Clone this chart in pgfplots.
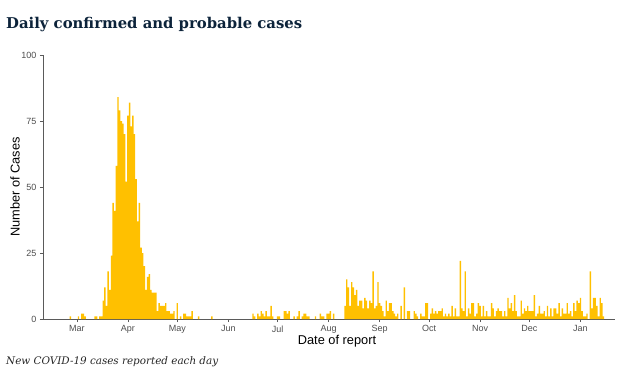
\documentclass[border=0pt]{standalone}
\usepackage{fontspec}
\setmainfont{Liberation Sans}
\newfontfamily\georgia{DejaVu Serif}
\usepackage{graphicx}
\usepackage{pgfplots}
\pgfplotsset{compat=1.18}
\definecolor{barcol}{RGB}{255,192,0}
\definecolor{titlecol}{RGB}{12,35,58}
\definecolor{tickcol}{RGB}{77,77,77}
\definecolor{axcol}{RGB}{90,90,90}
\begin{document}
\begin{tikzpicture}[x=1pt,y=1pt]
\path[use as bounding box] (0,0) rectangle (617,378);
\begin{axis}[
  at={(43pt,59pt)}, anchor=south west,
  scale only axis, width=572pt, height=264pt,
  xmin=-20.6, xmax=327, ymin=0, ymax=100,
  axis lines=left, axis line style={-, axcol, line width=0.7pt},
  ybar, bar width=0.85, bar shift=0pt,
  xtick={0,31,61,92,122,153,184,214,245,275,306},
  xticklabels={Mar,Apr,May,Jun,Jul,Aug,Sep,Oct,Nov,Dec,Jan},
  ytick={0,25,50,75,100},
  tick align=outside, major tick length=3pt,
  tick style={axcol, line width=0.6pt},
  ticklabel style={font=\fontsize{9}{10}\selectfont, text=tickcol},
  /pgf/number format/assume math mode=true,
  xlabel={Date of report}, ylabel={Number of Cases},
  label style={font=\fontsize{12.8}{15}\selectfont, text=black},
  xlabel style={at={(axis description cs:0.514,-0.0833)}, anchor=center},
  ylabel style={at={(axis description cs:-0.049,0.5)}, anchor=center},
]
\addplot[fill=barcol, draw=none] coordinates {
(-4,1)(1,1)(3,2)(4,2)(5,1)(11,1)(12,1)(14,1)(15,1)
(16,7)(17,12)(18,5)(19,18)(20,11)(21,24)(22,44)(23,41)(24,58)(25,84)
(26,79)(27,75)(28,74)(29,70)(30,52)(31,77)(32,82)(33,73)(34,77)(35,70)
(36,53)(37,37)(38,44)(39,27)(40,25)(41,20)(42,11)(43,16)(44,17)(45,11)
(46,10)(47,10)(48,10)(49,3)(50,6)(51,5)(52,5)(53,5)(54,6)(55,3)(56,3)
(57,2)(58,2)(59,3)(61,6)(63,1)(65,2)(66,2)(67,1)(68,1)(69,1)(70,3)(74,1)(82,1)
(107,2)(108,1)(110,2)(111,1)(112,3)(113,2)(114,1)(115,3)(116,1)(117,1)(118,5)(119,1)
(122,1)(123,1)(126,3)(127,3)(128,2)(129,3)(132,1)(134,1)(135,3)(137,1)(138,2)(139,2)
(140,1)(141,1)(145,1)(148,2)(149,1)(150,1)(152,2)(153,2)(154,3)(156,2)
(163,5)(164,15)(165,12)(166,5)(167,14)(168,12)(169,9)(170,11)(171,5)(172,7)(173,7)
(174,4)(175,8)(176,7)(177,4)(178,7)(179,6)(180,18)(181,4)(182,5)(183,14)(184,6)
(185,5)(186,3)(187,1)(188,7)(189,3)(190,6)(191,6)(192,3)(193,2)(194,1)(195,2)(197,5)
(199,12)(201,3)(202,3)(205,3)(206,2)(207,1)(209,2)(210,1)(211,1)(212,6)(213,6)
(215,2)(216,4)(217,2)(218,3)(219,2)(220,3)(221,3)(222,4)(223,1)(224,2)(225,1)(226,2)
(227,1)(228,5)(229,1)(230,4)(231,1)(232,1)(233,22)(234,4)(235,3)(236,18)(237,1)(238,4)
(239,2)(240,6)(241,6)(242,1)(243,2)(244,6)(245,5)(246,1)(247,5)(248,1)(249,3)(250,1)
(251,1)(252,6)(253,4)(254,1)(255,3)(256,4)(257,3)(258,3)(259,1)(260,3)(261,1)(262,8)
(263,4)(264,6)(265,3)(266,9)(267,3)(268,1)(269,1)
(270,7)(271,2)(272,4)(273,3)(274,5)(275,3)(276,3)(277,3)(278,9)(279,1)(280,2)(281,5)
(282,2)(283,2)(284,3)(285,1)(286,5)(287,1)(288,4)(289,1)(290,4)(291,4)(292,2)(293,6)
(294,1)(295,4)(296,2)(297,2)(298,6)(299,2)(300,3)(301,1)(302,6)(303,3)(304,7)(305,6)
(306,8)(307,3)(308,1)(309,1)(310,2)(312,18)(313,4)(314,8)(315,8)(316,5)(317,1)(318,8)
(319,6)(320,1)
};
\end{axis}
\node[anchor=base west, inner sep=0pt, text=titlecol] at (6,349.7)
  {\resizebox{296pt}{!}{\georgia\bfseries Daily confirmed and probable cases}};
\node[anchor=base west, inner sep=0pt, text=black!85] at (6,14)
  {\resizebox{212pt}{!}{\georgia\itshape New COVID-19 cases reported each day}};
\end{tikzpicture}
\end{document}
